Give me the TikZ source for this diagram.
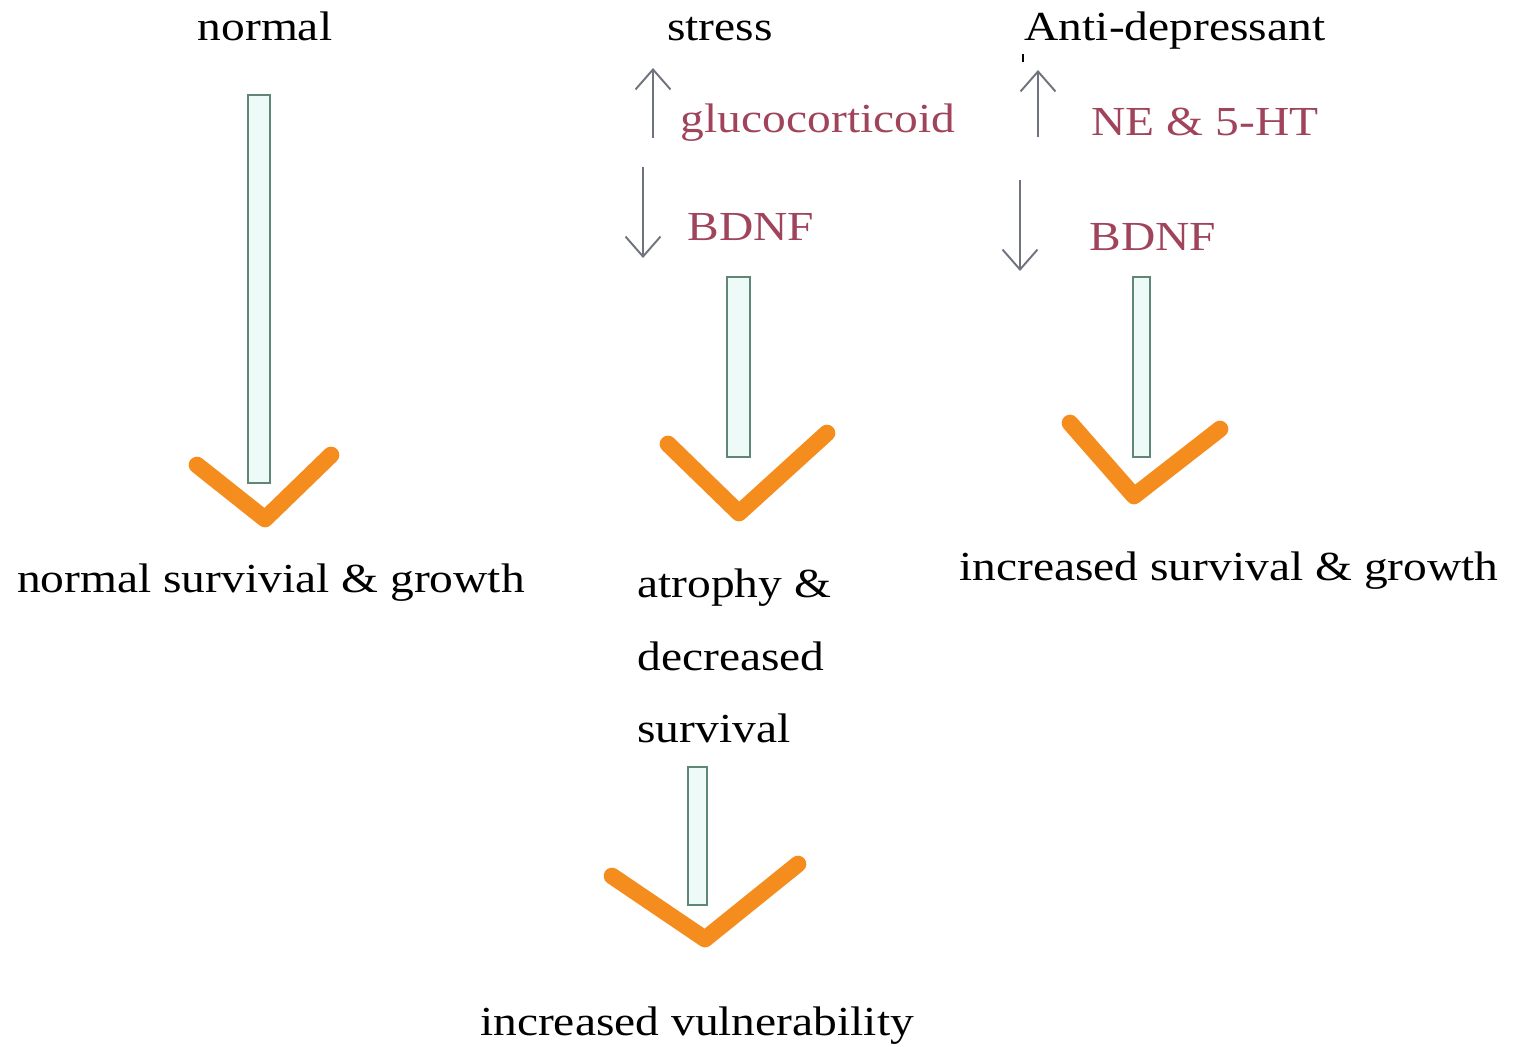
\documentclass[tikz,border=0pt]{standalone}
\usepackage{fontspec}
\setmainfont{Liberation Serif}[FakeStretch=1.15]
\usetikzlibrary{arrows.meta,positioning}

\definecolor{barline}{RGB}{95,135,115}
\definecolor{barfill}{RGB}{238,250,248}
\definecolor{veeorange}{RGB}{245,140,30}
\definecolor{signal}{RGB}{160,68,92}
\definecolor{thinarrow}{RGB}{110,115,125}

\begin{document}
\begin{tikzpicture}[
  x=0.02cm, y=-0.02cm,
  font=\fontsize{23.5}{28}\selectfont,
  lbl/.style={inner sep=0pt, anchor=base},
  sig/.style={lbl, text=signal},
  bar/.style={draw=barline, line width=1.1pt, fill=barfill, inner sep=0pt},
  vee/.style={draw=veeorange, line width=9.5pt, line join=round, line cap=round},
  updown/.style={draw=thinarrow, line width=1.1pt,
                 -{Straight Barb[length=4mm, width=7mm, line width=1.1pt]}},
]
\useasboundingbox (0,0) rectangle (1515,1046);
% ---------------- column headings -----------------
\node[lbl] (normal) at (265,40) {normal};
\node[lbl] (stress) at (720,40) {stress};
\node[lbl] (anti) at (1175,40) {Anti-depressant};
\draw[black, line width=1.6pt] (1023,54) -- (1023,62);
% ---------------- up / down signals -----------------
\node[sig] (gluco) at (818,132) {glucocorticoid};
\node[sig] (bdnfS) at (751,240) {BDNF};
\node[sig] (nehT) at (1205,135) {NE \& 5-HT};
\node[sig] (bdnfA) at (1153,250) {BDNF};
\coordinate (glucoLo) at (653,138);
\coordinate (glucoHi) at (653,68);
\coordinate (bdnfSHi) at (643,167);
\coordinate (bdnfSLo) at (643,258);
\coordinate (nehTLo) at (1038,137);
\coordinate (nehTHi) at (1038,70);
\coordinate (bdnfAHi) at (1020,180);
\coordinate (bdnfALo) at (1020,271);
\draw[updown] (glucoLo) -- (glucoHi);
\draw[updown] (bdnfSHi) -- (bdnfSLo);
\draw[updown] (nehTLo) -- (nehTHi);
\draw[updown] (bdnfAHi) -- (bdnfALo);
% ---------------- shafts -----------------
\node[bar, minimum width=0.44cm, minimum height=7.76cm] (barN) at (259,289) {};
\node[bar, minimum width=0.46cm, minimum height=3.6cm] (barS) at (738.5,367) {};
\node[bar, minimum width=0.38cm, minimum height=2.76cm] (barV) at (697.5,836) {};
\node[bar, minimum width=0.34cm, minimum height=3.6cm] (barA) at (1141.5,367) {};
% ---------------- orange heads -----------------
\draw[vee] (197,465) -- (265,519) -- (331,455);
\draw[vee] (668,444) -- (739,513) -- (827,433);
\draw[vee] (612,876) -- (705,939) -- (798,864);
\draw[vee] (1070,423) -- (1134,496) -- (1220,429);
% ---------------- outcomes -----------------
\node[lbl] (normOut) at (271,592) {normal survivial \& growth};
\node[lbl, anchor=base west] (atro1) at (637,597) {atrophy \&};
\node[lbl, anchor=base west] (atro2) at (637,670) {decreased};
\node[lbl, anchor=base west] (atro3) at (637,742) {survival};
\node[lbl] (incOut) at (1229,580) {increased survival \& growth};
\node[lbl] (vuln) at (697,1035) {increased vulnerability};
\end{tikzpicture}
\end{document}
